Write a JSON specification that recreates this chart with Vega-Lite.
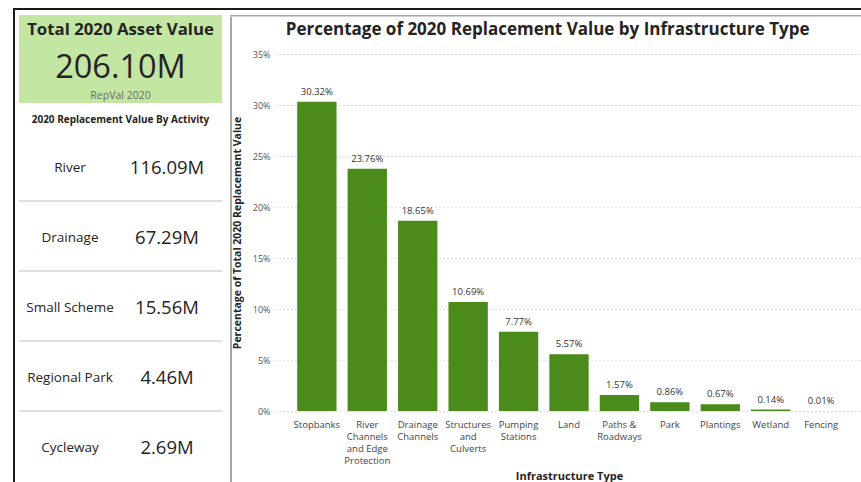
{
  "$schema": "https://vega.github.io/schema/vega-lite/v6.json",
  "background": "white",
  "padding": {"left": 13, "top": 8, "right": 0, "bottom": 0},
  "config": {"font": "Open Sans", "view": {"stroke": null}},
  "spacing": 0,
  "vconcat": [
    {"width": 848, "height": 2, "view": {"fill": "#1a1a1a", "stroke": null}, "data": {"values": []}, "mark": "rect", "encoding": {}},
    {
      "spacing": 0,
      "hconcat": [
        {"width": 2, "height": 472, "view": {"fill": "#1a1a1a", "stroke": null}, "data": {"values": []}, "mark": "rect", "encoding": {}},
        {"width": 3, "height": 1, "view": {"fill": "white", "stroke": null}, "data": {"values": []}, "mark": "rect", "encoding": {}},
        {
          "spacing": 0,
          "vconcat": [
            {"width": 1, "height": 5, "view": {"fill": "white", "stroke": null}, "data": {"values": []}, "mark": "rect", "encoding": {}},
            {
              "spacing": 7,
              "hconcat": [
                {
                  "spacing": 12,
                  "vconcat": [
                    {
                      "width": 203,
                      "height": 88,
                      "view": {"fill": "#c4e6a3", "stroke": null},
                      "data": {"values": [{"title": "Total 2020 Asset Value", "amount": "206.10M", "caption": "RepVal 2020"}]},
                      "layer": [
                        {
                          "mark": {"type": "text", "fontSize": 16.8, "fontWeight": "bold", "color": "#252423"},
                          "encoding": {
                            "text": {"field": "title"},
                            "y": {"datum": "title", "type": "nominal", "scale": {"type": "point", "domain": ["title", "amount", "caption"], "range": [15, 81], "padding": 0}, "axis": null}
                          }
                        },
                        {
                          "mark": {"type": "text", "fontSize": 32.5, "color": "#252423", "dy": 5},
                          "encoding": {"text": {"field": "amount"}, "y": {"datum": "amount", "type": "nominal", "axis": null}}
                        },
                        {
                          "mark": {"type": "text", "fontSize": 10.5, "color": "#6b6b6b"},
                          "encoding": {"text": {"field": "caption"}, "y": {"datum": "caption", "type": "nominal", "axis": null}}
                        }
                      ]
                    },
                    {
                      "width": 203,
                      "height": 353,
                      "title": {"text": "2020 Replacement Value By Activity", "fontSize": 10, "fontWeight": "bold", "color": "#252423", "offset": 4, "anchor": "middle"},
                      "data": {"values": [
                        {"activity": "River", "amount": "116.09M"},
                        {"activity": "Drainage", "amount": "67.29M"},
                        {"activity": "Small Scheme", "amount": "15.56M"},
                        {"activity": "Regional Park", "amount": "4.46M"},
                        {"activity": "Cycleway", "amount": "2.69M"}
                      ]},
                      "layer": [
                        {
                          "transform": [{"filter": "datum.activity != 'River'"}],
                          "mark": {"type": "rule", "color": "#d4d4d4", "strokeWidth": 1.5},
                          "encoding": {
                            "y": {"field": "activity", "type": "nominal", "bandPosition": 0, "scale": {"type": "band", "domain": ["River", "Drainage", "Small Scheme", "Regional Park", "Cycleway"], "range": [2, 352], "paddingInner": 0, "paddingOuter": 0}, "axis": null}
                          }
                        },
                        {
                          "mark": {"type": "text", "fontSize": 13.5, "color": "#252423", "dy": 2},
                          "encoding": {
                            "text": {"field": "activity"},
                            "y": {"field": "activity", "type": "nominal", "axis": null},
                            "x": {"datum": "activity", "type": "nominal", "scale": {"type": "point", "domain": ["activity", "amount"], "range": [51, 148], "padding": 0}, "axis": null}
                          }
                        },
                        {
                          "mark": {"type": "text", "fontSize": 18.5, "color": "#252423", "dy": 2},
                          "encoding": {
                            "text": {"field": "amount"},
                            "y": {"field": "activity", "type": "nominal", "axis": null},
                            "x": {"datum": "amount", "type": "nominal", "axis": null}
                          }
                        }
                      ]
                    }
                  ]
                },
                {
                  "spacing": 0,
                  "vconcat": [
                    {"width": 633, "height": 1.5, "view": {"fill": "#a6a6a6", "stroke": null}, "data": {"values": []}, "mark": "rect", "encoding": {}},
                    {
                      "spacing": 0,
                      "hconcat": [
                        {"width": 2, "height": 466, "view": {"fill": "#a6a6a6", "stroke": null}, "data": {"values": []}, "mark": "rect", "encoding": {}},
                        {
                          "spacing": 3,
                          "vconcat": [
                            {"width": 1, "height": 1, "view": {"fill": "white", "stroke": null}, "data": {"values": []}, "mark": "rect", "encoding": {}},
                            {
                              "width": 588,
                              "height": 357,
                              "title": {"text": "Percentage of 2020 Replacement Value by Infrastructure Type", "fontSize": 17, "fontWeight": "bold", "color": "#252423", "anchor": "middle", "frame": "bounds", "offset": 11},
                              "data": {"values": [
                                {"type": "Stopbanks", "share": 0.3032},
                                {"type": "River Channels and Edge Protection", "share": 0.2376},
                                {"type": "Drainage Channels", "share": 0.1865},
                                {"type": "Structures and Culverts", "share": 0.1069},
                                {"type": "Pumping Stations", "share": 0.0777},
                                {"type": "Land", "share": 0.0557},
                                {"type": "Paths & Roadways", "share": 0.0157},
                                {"type": "Park", "share": 0.0086},
                                {"type": "Plantings", "share": 0.0067},
                                {"type": "Wetland", "share": 0.0014},
                                {"type": "Fencing", "share": 0.0001}
                              ]},
                              "encoding": {
                                "x": {
                                  "field": "type", "type": "nominal", "sort": null,
                                  "scale": {"paddingInner": 0.22, "paddingOuter": 0.44},
                                  "axis": {
                                    "title": "Infrastructure Type", "titleFontSize": 11, "titleFontWeight": "bold", "titleColor": "#252423", "titlePadding": 6,
                                    "labelAngle": 0, "labelFontSize": 9.5, "labelColor": "#444444", "labelPadding": 8, "labelLineHeight": 12, "labelBaseline": "top",
                                    "ticks": false, "domain": false, "grid": false,
                                    "labelExpr": "datum.value == 'River Channels and Edge Protection' ? ['River', 'Channels', 'and Edge', 'Protection'] : datum.value == 'Drainage Channels' ? ['Drainage', 'Channels'] : datum.value == 'Structures and Culverts' ? ['Structures', 'and', 'Culverts'] : datum.value == 'Pumping Stations' ? ['Pumping', 'Stations'] : datum.value == 'Paths & Roadways' ? ['Paths &', 'Roadways'] : datum.label"
                                  }
                                },
                                "y": {
                                  "field": "share", "type": "quantitative",
                                  "scale": {"domain": [0, 0.35], "nice": false},
                                  "axis": {
                                    "title": "Percentage of Total 2020 Replacement Value", "titleFontSize": 10.5, "titleFontWeight": "bold", "titleColor": "#252423", "titlePadding": 10,
                                    "format": ".0%", "values": [0, 0.05, 0.1, 0.15, 0.2, 0.25, 0.3, 0.35],
                                    "labelFontSize": 9, "labelColor": "#555555", "labelPadding": 5,
                                    "ticks": false, "domain": false, "grid": true, "gridDash": [1, 3], "gridColor": "#c4c4c4"
                                  }
                                }
                              },
                              "layer": [
                                {"mark": {"type": "bar", "color": "#4a8b1b"}},
                                {
                                  "mark": {"type": "text", "dy": -10, "fontSize": 9.5, "color": "#333333"},
                                  "encoding": {"text": {"field": "share", "type": "quantitative", "format": ".2%"}}
                                }
                              ]
                            }
                          ]
                        }
                      ]
                    }
                  ]
                }
              ]
            }
          ]
        }
      ]
    }
  ]
}
